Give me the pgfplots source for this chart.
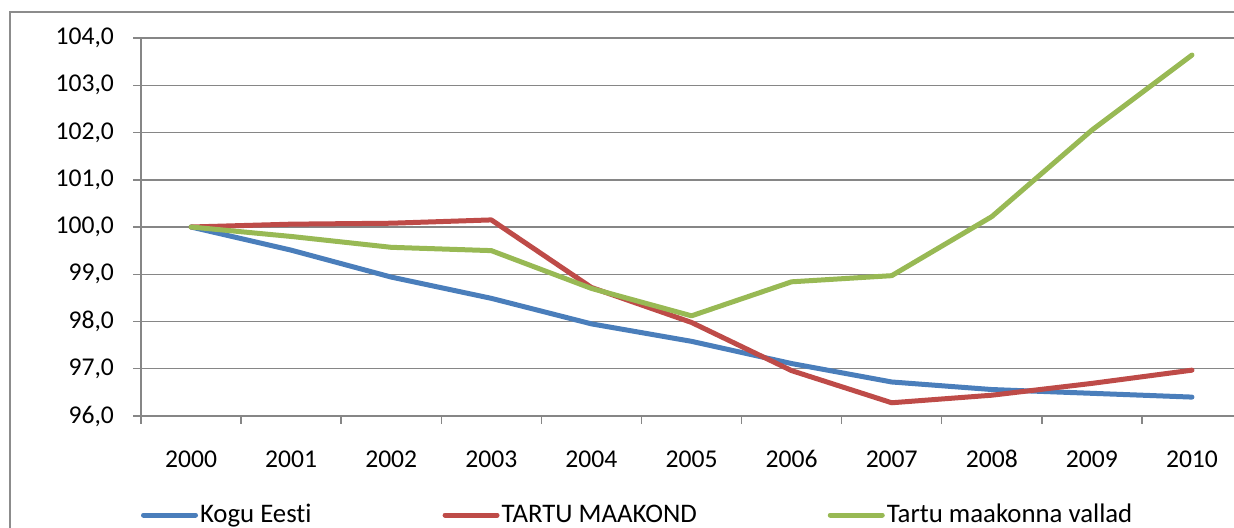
\documentclass[border=0pt]{standalone}
\usepackage{pgfplots}
\pgfplotsset{compat=1.18}
\usepackage{fontspec}
\setmainfont{Carlito}[Ligatures={NoCommon}]
\definecolor{cblue}{HTML}{4A7EBB}
\definecolor{cred}{HTML}{BE4B48}
\definecolor{cgreen}{HTML}{98B954}
\definecolor{cgrid}{HTML}{868686}
\definecolor{cframe}{HTML}{8C8C8C}
\begin{document}
\begin{tikzpicture}
\path[use as bounding box] (0pt,0pt) rectangle (617pt,264pt);
\draw[cframe, line width=0.6pt] (5pt,-20pt) -- (5pt,258pt) -- (700pt,258pt);
\begin{axis}[
  at={(70.5pt,56pt)}, anchor=south west,
  scale only axis, width=546.5pt, height=189pt,
  xmin=-0.5, xmax=10.42, ymin=96, ymax=104,
  axis x line*=bottom, axis y line*=left,
  axis line style={cgrid, line width=0.75pt},
  every tick/.style={cgrid, line width=0.75pt},
  tick align=outside, major tick length=4pt,
  ytick={96,97,...,104},
  ymajorgrids, grid style={cgrid, line width=0.75pt},
  xtick={-0.5,0.5,1.5,2.5,3.5,4.5,5.5,6.5,7.5,8.5,9.5},
  xticklabels={},
  extra x ticks={0,1,2,3,4,5,6,7,8,9,10},
  extra x tick labels={2000,2001,2002,2003,2004,2005,2006,2007,2008,2009,2010},
  extra x tick style={major tick length=0pt, grid=none,
     xticklabel style={yshift=-14pt, text height=8pt, text depth=0pt}},
  /pgf/number format/.cd, fixed, fixed zerofill, precision=1, use comma, assume math mode=true,
  /pgfplots/.cd,
  tick label style={font=\fontsize{12.8}{15}\selectfont, black},
  yticklabel style={xshift=-6pt},
  legend style={at={(0,-0.262)}, anchor=west, draw=none, fill=none,
    inner sep=0pt, outer sep=0pt, font=\fontsize{13.4}{15}\selectfont,
    nodes={inner sep=1pt},
    /tikz/every even column/.append style={column sep=64.5pt}},
  legend columns=3,
  legend image code/.code={\draw[#1, line cap=round] (1.25pt,0pt) -- (27.25pt,0pt);},
]
\addplot[cblue, line width=2.5pt, line cap=round, line join=round] coordinates {
(0,100.0) (1,99.51) (2,98.94) (3,98.49) (4,97.95) (5,97.58) (6,97.11) (7,96.72) (8,96.56) (9,96.48) (10,96.40)};
\addlegendentry{Kogu Eesti}
\addplot[cred, line width=2.5pt, line cap=round, line join=round] coordinates {
(0,100.0) (1,100.06) (2,100.08) (3,100.15) (4,98.72) (5,97.98) (6,96.96) (7,96.28) (8,96.44) (9,96.69) (10,96.97)};
\addlegendentry{TARTU MAAKOND}
\addplot[cgreen, line width=2.5pt, line cap=round, line join=round] coordinates {
(0,100.0) (1,99.80) (2,99.57) (3,99.50) (4,98.70) (5,98.12) (6,98.84) (7,98.97) (8,100.22) (9,102.05) (10,103.64)};
\addlegendentry{Tartu maakonna vallad}
\end{axis}
\end{tikzpicture}
\end{document}
